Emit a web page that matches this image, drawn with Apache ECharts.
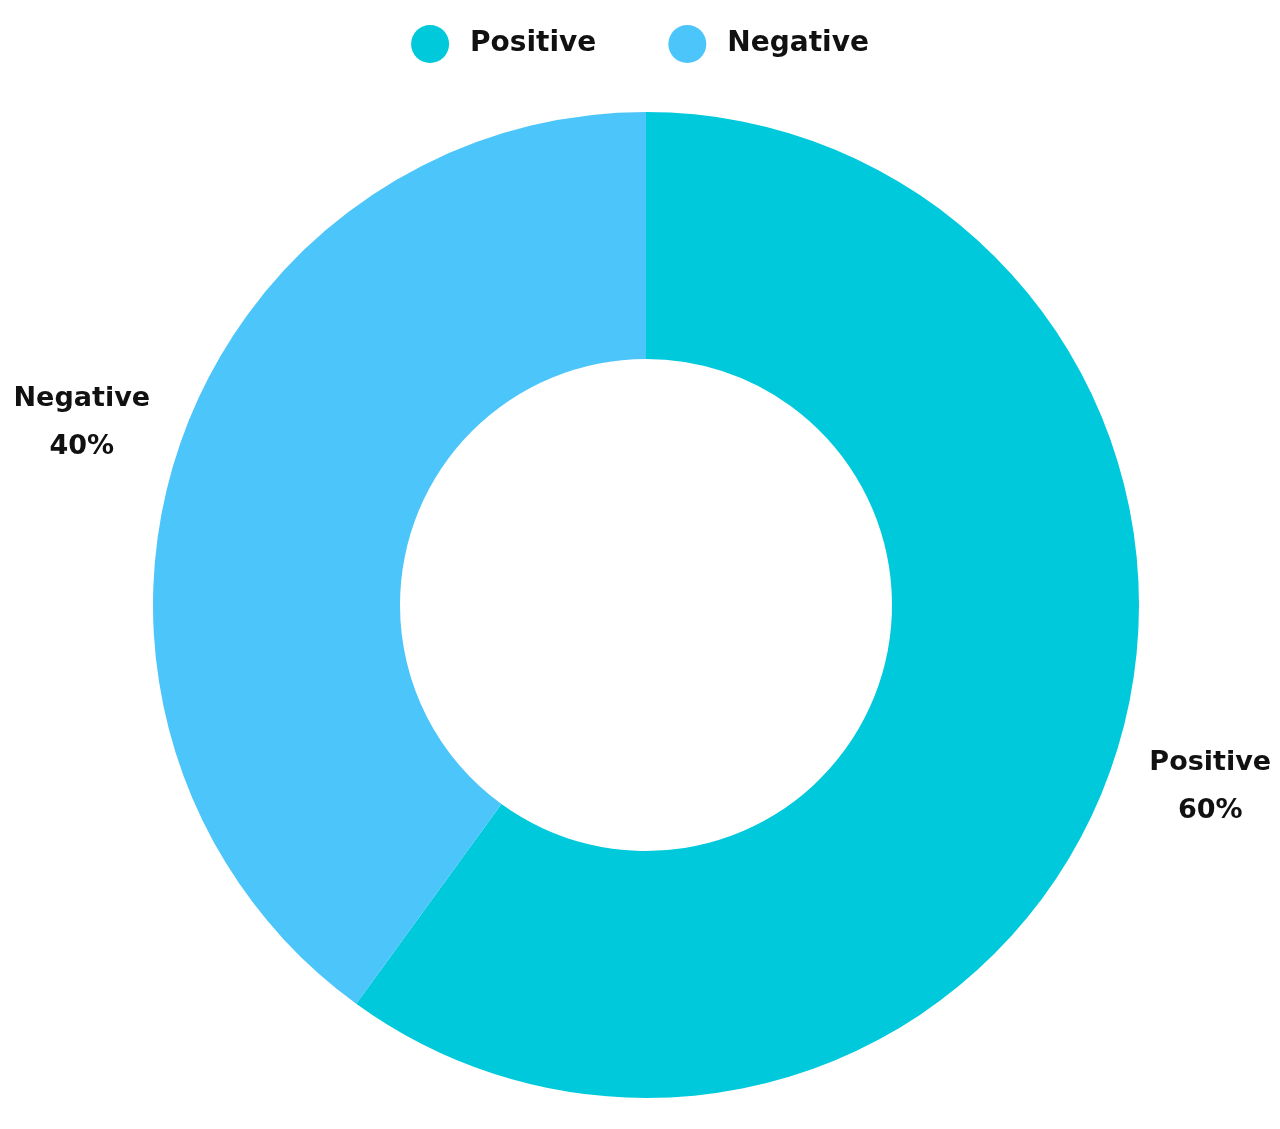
<!DOCTYPE html>
<html>
<head>
<meta charset="utf-8">
<script src="https://cdn.jsdelivr.net/npm/echarts@6/dist/echarts.min.js"></script>
<style>html,body{margin:0;padding:0;background:#fff}#chart{width:1280px;height:1129px}</style>
</head>
<body>
<div id="chart"></div>
<script>
const categories = ['Positive', 'Negative'];
const values = [60, 40];
const colors = ['#00C9DB', '#4CC5FB'];

const chart = echarts.init(document.getElementById('chart'));
chart.setOption({
  animation: false,
  color: colors,
  legend: {
    top: 20,
    left: 'center',
    icon: 'circle',
    itemWidth: 38,
    itemHeight: 38,
    itemGap: 72,
    textStyle: { fontFamily: 'DejaVu Sans', fontWeight: 'bold', fontSize: 28, color: '#111', padding: [0, 0, 0, 16] },
    data: categories
  },
  series: [{
    type: 'pie',
    center: [646, 605],
    radius: [246, 493],
    startAngle: 90,
    clockwise: true,
    avoidLabelOverlap: false,
    label: {
      show: true,
      position: 'outside',
      formatter: '{b}\n{d}%',
      fontFamily: 'DejaVu Sans',
      fontWeight: 'bold',
      fontSize: 27,
      lineHeight: 48,
      color: '#111',
      alignTo: 'none'
    },
    labelLine: { show: false, length: 95, length2: 0 },
    labelLayout: function () { return { align: 'center', verticalAlign: 'middle' }; },
    emphasis: { disabled: true },
    data: categories.map((c, i) => ({ name: c, value: values[i] }))
  }]
});
</script>
</body>
</html>
